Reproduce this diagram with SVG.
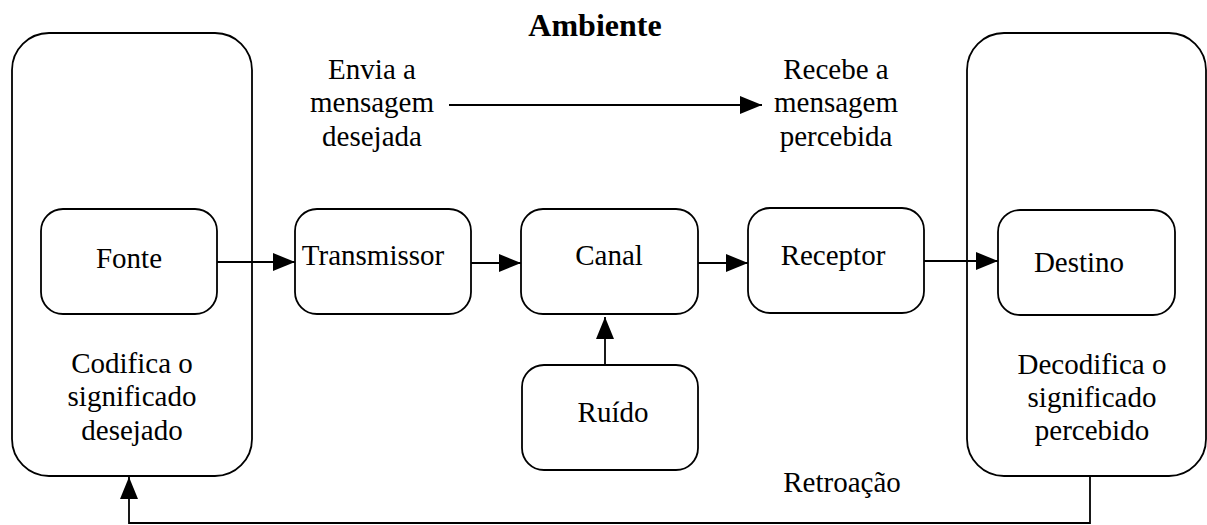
<svg xmlns="http://www.w3.org/2000/svg" width="1207" height="525" viewBox="0 0 1207 525">
<style>
.box{fill:#fff;stroke:#000;stroke-width:1.8}
.c{fill:none;stroke:#000;stroke-width:1.8}
</style>
<defs>
<marker id="ah" markerUnits="userSpaceOnUse" markerWidth="22" markerHeight="18" refX="22" refY="9" orient="auto">
<path d="M0,0 L22,9 L0,18 z" fill="#000"/>
</marker>
</defs>
<rect width="1207" height="525" fill="#fff"/>
<g font-family="Liberation Serif, Times New Roman, serif" font-size="29" fill="#000" text-anchor="middle">
<text font-weight="bold" font-size="32" x="595" y="36">Ambiente</text>
<g id="fonte-container">
<rect class="box" x="12" y="33" width="240" height="443" rx="37" ry="37"/>
<text x="132" y="373">Codifica o</text>
<text x="132" y="406">significado</text>
<text x="132" y="440">desejado</text>
</g>
<g id="destino-container">
<rect class="box" x="967" y="33" width="239" height="443" rx="37" ry="37"/>
<text x="1092" y="374">Decodifica o</text>
<text x="1092" y="407">significado</text>
<text x="1092" y="440">percebido</text>
</g>
<g id="envia">
<text x="372" y="79">Envia a</text>
<text x="372" y="112">mensagem</text>
<text x="372" y="146">desejada</text>
</g>
<g id="recebe">
<text x="836" y="79">Recebe a</text>
<text x="836" y="112">mensagem</text>
<text x="836" y="146">percebida</text>
</g>
<g id="fonte">
<rect class="box" x="41" y="209" width="176" height="105" rx="22" ry="22"/>
<text x="129" y="268">Fonte</text>
</g>
<g id="transmissor">
<rect class="box" x="295" y="209" width="176" height="105" rx="22" ry="22"/>
<text x="373" y="265">Transmissor</text>
</g>
<g id="canal">
<rect class="box" x="521" y="209" width="177" height="105" rx="22" ry="22"/>
<text x="609" y="265">Canal</text>
</g>
<g id="receptor">
<rect class="box" x="748" y="208" width="176" height="105" rx="22" ry="22"/>
<text x="833" y="265">Receptor</text>
</g>
<g id="destino">
<rect class="box" x="998" y="210" width="177" height="105" rx="22" ry="22"/>
<text x="1079" y="272">Destino</text>
</g>
<g id="ruido">
<rect class="box" x="522" y="365" width="176" height="105" rx="22" ry="22"/>
<text x="613" y="422">Ruído</text>
</g>
<g id="retroacao-label">
<text x="842" y="492">Retroação</text>
</g>
</g>
<g id="connectors">
<line class="c" x1="449" y1="105" x2="762" y2="105" marker-end="url(#ah)"/>
<line class="c" x1="217" y1="262" x2="295" y2="262" marker-end="url(#ah)"/>
<line class="c" x1="471" y1="263" x2="521" y2="263" marker-end="url(#ah)"/>
<line class="c" x1="698" y1="263" x2="748" y2="263" marker-end="url(#ah)"/>
<line class="c" x1="924" y1="261" x2="998" y2="261" marker-end="url(#ah)"/>
<line class="c" x1="605" y1="365" x2="605" y2="317" marker-end="url(#ah)"/>
<path class="c" d="M1090,476 V523 H129 V477" marker-end="url(#ah)"/>
</g>
</svg>
